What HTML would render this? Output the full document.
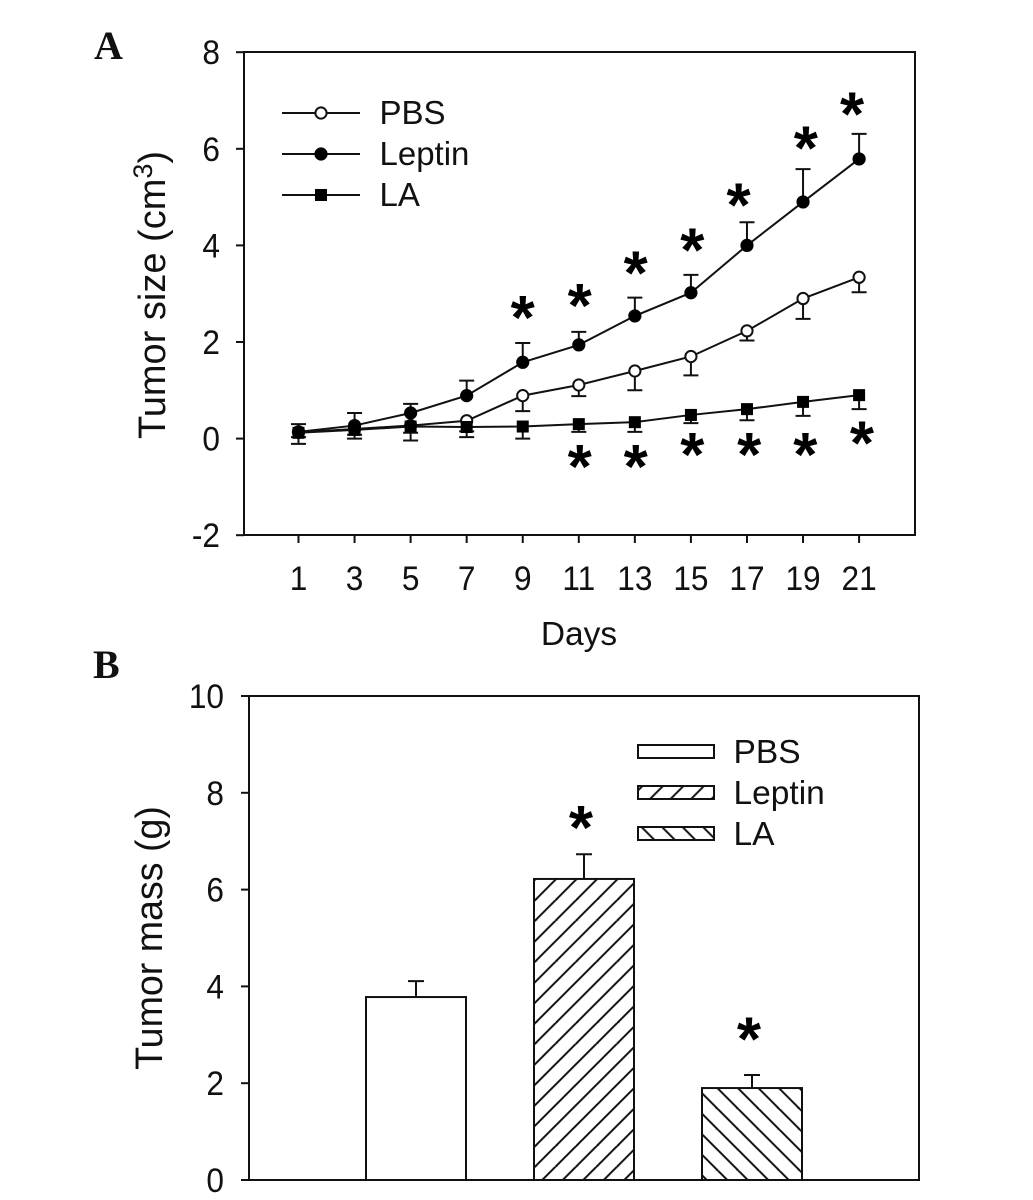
<!DOCTYPE html>
<html>
<head>
<meta charset="utf-8">
<title>Tumor size and mass</title>
<style>
html,body{margin:0;padding:0;background:#fff;}
svg{display:block;}
text{font-family:"Liberation Sans",Arial,sans-serif;fill:#111;}
.panel{font-family:"Liberation Serif",serif;font-weight:bold;font-size:40px;}
.star{font-family:"Liberation Sans",sans-serif;font-weight:bold;font-size:62px;text-anchor:middle;fill:#000;}
</style>
</head>
<body>
<svg id="fig" width="1033" height="1200" viewBox="0 0 1033 1200" xmlns="http://www.w3.org/2000/svg">
  <defs>
    <pattern id="hatch-fwd" patternUnits="userSpaceOnUse" width="20.5" height="20.5" patternTransform="translate(576.7 879)">
      <rect width="20.5" height="20.5" fill="#fff"></rect>
      <path d="M-5 25.5L25.5 -5M-5 5L5 -5M15.5 25.5L25.5 15.5" stroke="#111" stroke-width="2"></path>
    </pattern>
    <pattern id="hatch-back" patternUnits="userSpaceOnUse" width="20.5" height="20.5" patternTransform="translate(717.3 1088)">
      <rect width="20.5" height="20.5" fill="#fff"></rect>
      <path d="M-5 -5L25.5 25.5M15.5 -5L25.5 5M-5 15.5L5 25.5" stroke="#111" stroke-width="2"></path>
    </pattern>
    <pattern id="hatch-fwd-key" patternUnits="userSpaceOnUse" width="20.5" height="20.5" patternTransform="translate(663.3 785.7)">
      <rect width="20.5" height="20.5" fill="#fff"></rect>
      <path d="M-5 25.5L25.5 -5M-5 5L5 -5M15.5 25.5L25.5 15.5" stroke="#111" stroke-width="2"></path>
    </pattern>
    <pattern id="hatch-back-key" patternUnits="userSpaceOnUse" width="20.5" height="20.5" patternTransform="translate(661.7 826.7)">
      <rect width="20.5" height="20.5" fill="#fff"></rect>
      <path d="M-5 -5L25.5 25.5M15.5 -5L25.5 5M-5 15.5L5 25.5" stroke="#111" stroke-width="2"></path>
    </pattern>
  </defs>
  <text class="panel" x="94" y="59">A</text>
  <text class="panel" x="93" y="678">B</text>
  <g id="chartA"></g>
  <g id="chartB"></g>
  <text x="579" y="645" font-size="33.5" text-anchor="middle">Days</text>
  <text transform="translate(165 295) rotate(-90)" font-size="38" text-anchor="middle">Tumor size (cm<tspan dy="-13" font-size="27">3</tspan><tspan dy="13">)</tspan></text>
  <text transform="translate(162 938) rotate(-90)" font-size="37.6" text-anchor="middle">Tumor mass (g)</text>
</svg>
<script>
const days = [1,3,5,7,9,11,13,15,17,19,21];
const yTicksA = [-2,0,2,4,6,8];
const pbsValues = [0.13,0.20,0.27,0.37,0.89,1.11,1.40,1.70,2.23,2.90,3.34];
const pbsErrors = [0.10,0.12,0.15,0.22,0.32,0.23,0.40,0.39,0.20,0.42,0.31];
const leptinValues = [0.14,0.27,0.53,0.89,1.58,1.94,2.54,3.02,4.00,4.90,5.79];
const leptinErrors = [0.16,0.26,0.19,0.31,0.40,0.27,0.38,0.37,0.48,0.68,0.52];
const laValues = [0.12,0.18,0.25,0.24,0.25,0.30,0.34,0.49,0.61,0.76,0.90];
const laErrors = [0.23,0.18,0.29,0.21,0.25,0.16,0.20,0.17,0.23,0.29,0.29];
const topStarDays = [9,11.03,13.03,15.05,16.7,19.1,20.75];
const topStarValues = [2.64,2.89,3.56,4.04,4.97,6.15,6.85];
const bottomStarDays = [11.03,13.03,15.05,17.08,19.08,21.1];
const bottomStarValues = [-0.44,-0.44,-0.19,-0.19,-0.19,0.04];

const barCategories = ['PBS','Leptin','LA'];
const barValues = [3.78,6.22,1.90];
const barErrors = [0.33,0.51,0.27];
const barStarValues = [null,7.42,3.05];
const yTicksB = [0,2,4,6,8,10];

const NS = 'http://www.w3.org/2000/svg';
const INK = '#111';
const TICK_SQUEEZE = 0.93;
function mk(parent, tag, attrs, txt){
  const el = document.createElementNS(NS, tag);
  for (const k in attrs) el.setAttribute(k, attrs[k]);
  if (txt !== undefined) el.textContent = txt;
  parent.appendChild(el);
  return el;
}
function place(x, y){
  return 'translate(' + x + ' ' + y + ') scale(' + TICK_SQUEEZE + ' 1)';
}
/* ---------- Panel A ---------- */
const A = document.getElementById('chartA');
const xA = d => 298.5 + (d - 1) * 28.03;
const yA = v => 438.6 - v * 48.3;
const frameA = mk(A, 'rect', {x:244, y:52, width:671, height:483, fill:'none', stroke:INK, 'stroke-width':2});


yTicksA.forEach(t => {
  const tick = mk(A, 'line', {x1:236, x2:244, y1:yA(t), y2:yA(t), stroke:INK, 'stroke-width':2});
  
  
  const label = mk(A, 'text', {transform:place(220, yA(t) + 12), 'font-size':34, 'text-anchor':'end'}, String(t));
  
  
});
days.forEach(d => {
  const tick = mk(A, 'line', {x1:xA(d), x2:xA(d), y1:535, y2:543, stroke:INK, 'stroke-width':2});
  
  
  const label = mk(A, 'text', {transform:place(xA(d), 590), 'font-size':34, 'text-anchor':'middle'}, String(d));
  
  
});
function marker(parent, kind, cx, cy){
  if (kind === 'square') return mk(parent, 'rect', {x:cx-6, y:cy-6, width:12, height:12, fill:'#000'});
  if (kind === 'open') return mk(parent, 'circle', {cx:cx, cy:cy, r:5.6, fill:'#fff', stroke:INK, 'stroke-width':2});
  return mk(parent, 'circle', {cx:cx, cy:cy, r:6.6, fill:'#000'});
}
function series(values, errors, sign, kind){
  const g = mk(A, 'g', {});
  const pts = values.map((v, i) => xA(days[i]) + ',' + yA(v)).join(' ');
  values.forEach((v, i) => {
    const end = yA(v + sign * errors[i]);
    const x = xA(days[i]);
    const e = mk(g, 'path', {d:'M' + x + ' ' + yA(v) + 'V' + end + 'M' + (x-7.5) + ' ' + end + 'H' + (x+7.5), stroke:INK, 'stroke-width':2, fill:'none'});
    
    
  });
  const line = mk(g, 'polyline', {points:pts, fill:'none', stroke:INK, 'stroke-width':2});
  
  
  values.forEach((v, i) => {
    const m = marker(g, kind, xA(days[i]), yA(v));
    
    
  });
}
series(pbsValues, pbsErrors, -1, 'open');
series(leptinValues, leptinErrors, 1, 'filled');
series(laValues, laErrors, -1, 'square');
const STAR_DY = 28;
topStarDays.forEach((d, i) => {
  const s = mk(A, 'text', {class:'star', x:xA(d), y:yA(topStarValues[i]) + STAR_DY}, '*');
  
  
});
bottomStarDays.forEach((d, i) => {
  const s = mk(A, 'text', {class:'star', x:xA(d), y:yA(bottomStarValues[i]) + STAR_DY}, '*');
  
  
});
const legendA = [['PBS','open',113],['Leptin','filled',154],['LA','square',195]];
const legA = mk(A, 'g', {});


legendA.forEach(item => {
  const l = mk(legA, 'line', {x1:282, x2:360, y1:item[2], y2:item[2], stroke:INK, 'stroke-width':2});
  
  
  const m = marker(legA, item[1], 321, item[2]);
  
  
  const t = mk(legA, 'text', {x:379.5, y:item[2] + 11, 'font-size':33}, item[0]);
  
  
});
/* ---------- Panel B ---------- */
const B = document.getElementById('chartB');
const yB = v => 1180 - v * 48.4;
const barLeft = i => 366 + i * 168;
const BAR_W = 100;
const fills = ['#fff','url(#hatch-fwd)','url(#hatch-back)'];
const keyFills = ['#fff','url(#hatch-fwd-key)','url(#hatch-back-key)'];
const frameB = mk(B, 'rect', {x:249, y:696, width:670, height:484, fill:'none', stroke:INK, 'stroke-width':2});


yTicksB.forEach(t => {
  const tick = mk(B, 'line', {x1:241, x2:249, y1:yB(t), y2:yB(t), stroke:INK, 'stroke-width':2});
  
  
  const label = mk(B, 'text', {transform:place(224, yB(t) + 12), 'font-size':34, 'text-anchor':'end'}, String(t));
  
  
});
barCategories.forEach((c, i) => {
  const x = barLeft(i), cx = x + BAR_W / 2;
  const top = yB(barValues[i] + barErrors[i]);
  const e = mk(B, 'path', {d:'M' + cx + ' ' + yB(barValues[i]) + 'V' + top + 'M' + (cx-8) + ' ' + top + 'H' + (cx+8), stroke:INK, 'stroke-width':2, fill:'none'});
  
  
  const r = mk(B, 'rect', {x:x, y:yB(barValues[i]), width:BAR_W, height:yB(0) - yB(barValues[i]), fill:fills[i], stroke:INK, 'stroke-width':2});
  
  
  if (barStarValues[i] !== null) {
    const s = mk(B, 'text', {class:'star', x:cx - 3, y:yB(barStarValues[i]) + STAR_DY}, '*');
    
    
  }
  const ly = 745 + i * 41;
  const k = mk(B, 'rect', {x:638, y:ly, width:76, height:13, fill:keyFills[i], stroke:INK, 'stroke-width':2});
  
  
  const t = mk(B, 'text', {x:733.5, y:ly + 18, 'font-size':33.5}, c);
  
  
});
</script>
</body>
</html>
